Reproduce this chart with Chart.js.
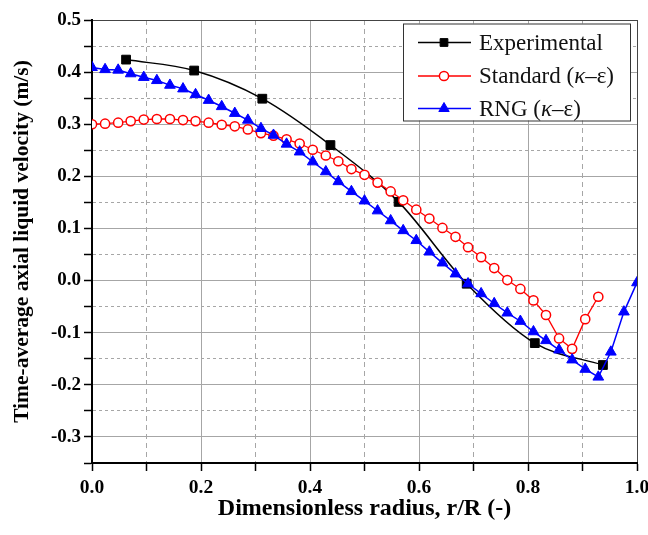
<!DOCTYPE html>
<html>
<head>
<meta charset="utf-8">
<title>Time-average axial liquid velocity</title>
<script src="https://cdn.jsdelivr.net/npm/chart.js@4/dist/chart.umd.min.js"></script>
<style>
  html, body { margin: 0; padding: 0; background: #fff; }
  #wrap { width: 648px; height: 535px; }
</style>
</head>
<body>
<div id="wrap"><canvas id="c" width="648" height="535"></canvas></div>
<script>
// Radial positions of the CFD sample points (r/R)
const radius = [0.000, 0.024, 0.048, 0.071, 0.095, 0.119, 0.143, 0.167, 0.190, 0.214,
                0.238, 0.262, 0.286, 0.310, 0.333, 0.357, 0.381, 0.405, 0.429, 0.452,
                0.476, 0.500, 0.524, 0.548, 0.571, 0.595, 0.619, 0.643, 0.667, 0.690,
                0.714, 0.738, 0.762, 0.786, 0.810, 0.833, 0.857, 0.881, 0.905, 0.929,
                0.952, 0.976, 1.000];

// Standard k-epsilon model (m/s)
const standardVel = [0.300, 0.301, 0.303, 0.306, 0.309, 0.310, 0.310, 0.308, 0.306, 0.303,
                     0.299, 0.296, 0.290, 0.283, 0.278, 0.271, 0.263, 0.251, 0.240, 0.229,
                     0.214, 0.203, 0.188, 0.171, 0.154, 0.136, 0.119, 0.101, 0.084, 0.064,
                     0.045, 0.024, 0.001, -0.016, -0.038, -0.066, -0.111, -0.131, -0.074, -0.031];

// RNG k-epsilon model (m/s)
const rngVel = [0.409, 0.405, 0.404, 0.397, 0.390, 0.384, 0.375, 0.368, 0.357, 0.346,
                0.334, 0.321, 0.308, 0.292, 0.279, 0.262, 0.247, 0.228, 0.209, 0.190,
                0.171, 0.153, 0.134, 0.115, 0.096, 0.077, 0.055, 0.034, 0.013, -0.006,
                -0.025, -0.044, -0.062, -0.078, -0.098, -0.115, -0.133, -0.152, -0.170, -0.185,
                -0.137, -0.060, -0.004];

// Measured profile
const expRadius = [0.0625, 0.1875, 0.3125, 0.4375, 0.5625, 0.6875, 0.8125, 0.9375];
const expVel = [0.424, 0.403, 0.349, 0.260, 0.151, -0.006, -0.120, -0.162];

const seriesLabels = ['Experimental', 'Standard (κ–ε)', 'RNG (κ–ε)'];

const pairs = (xs, ys) => ys.map((v, i) => ({ x: xs[i], y: v }));

const SERIF = '"Liberation Serif", "Times New Roman", serif';
const GRID = '#a6a6a6';
const FRAME = '#444';

// Boxed legend in the upper right of the plot, with an italic kappa
const boxedLegend = {
  id: 'boxedLegend',
  afterDatasetsDraw(chart) {
    const { ctx, chartArea: a } = chart;
    const w = 227, h = 97;
    const x0 = a.right - 234, y0 = a.top + 3.5;
    ctx.save();
    ctx.fillStyle = '#fff';
    ctx.fillRect(x0, y0, w, h);
    ctx.strokeStyle = '#333';
    ctx.lineWidth = 1;
    ctx.strokeRect(x0 + 0.5, y0 + 0.5, w, h);

    const rows = [y0 + 19, y0 + 52.5, y0 + 85];
    [0, 1, 2].forEach((di, r) => {
      const ds = chart.data.datasets[di];
      const y = rows[r];
      ctx.strokeStyle = ds.borderColor;
      ctx.lineWidth = ds.borderWidth;
      ctx.setLineDash([]);
      ctx.beginPath();
      ctx.moveTo(x0 + 15, y);
      ctx.lineTo(x0 + 68, y);
      ctx.stroke();
      const style = {
        pointStyle: ds.pointStyle,
        radius: ds.legendRadius,
        rotation: 0,
        borderWidth: ds.pointBorderWidth
      };
      ctx.fillStyle = ds.pointBackgroundColor;
      ctx.strokeStyle = ds.pointBorderColor;
      ctx.lineWidth = ds.pointBorderWidth;
      Chart.helpers.drawPoint(ctx, style, x0 + 41, y);

      ctx.fillStyle = '#111';
      ctx.textBaseline = 'middle';
      ctx.textAlign = 'left';
      const text = ds.label;
      let tx = x0 + 76;
      const k = text.indexOf('κ');
      const normal = '23px ' + SERIF;
      const italic = 'italic 23px ' + SERIF;
      if (k < 0) {
        ctx.font = normal;
        ctx.fillText(text, tx, y + 1);
      } else {
        const parts = [[text.slice(0, k), normal], ['κ', italic], [text.slice(k + 1), normal]];
        parts.forEach(([s, f]) => {
          ctx.font = f;
          ctx.fillText(s, tx, y + 1);
          tx += ctx.measureText(s).width;
        });
      }
    });
    ctx.restore();
  }
};

const tenths = v => Math.round(v * 10);
const hundredths = v => Math.round(v * 100);

new Chart(document.getElementById('c'), {
  type: 'line',
  data: {
    datasets: [
      {
        label: seriesLabels[0],
        data: pairs(expRadius, expVel),
        borderColor: '#000',
        backgroundColor: '#000',
        borderWidth: 1.5,
        pointStyle: 'rect',
        pointRadius: 6.2,
        legendRadius: 5.5,
        pointBackgroundColor: '#000',
        pointBorderColor: '#000',
        pointBorderWidth: 1,
        cubicInterpolationMode: 'monotone',
        order: 3
      },
      {
        label: seriesLabels[1],
        data: pairs(radius, standardVel),
        borderColor: '#ff0000',
        backgroundColor: '#fff',
        borderWidth: 1.3,
        pointStyle: 'circle',
        pointRadius: 4.6,
        legendRadius: 4.6,
        pointBackgroundColor: '#fff',
        pointBorderColor: '#ff0000',
        pointBorderWidth: 1.5,
        tension: 0,
        order: 2
      },
      {
        label: seriesLabels[2],
        data: pairs(radius, rngVel),
        borderColor: '#0000ff',
        backgroundColor: '#0000ff',
        borderWidth: 1.5,
        pointStyle: 'triangle',
        pointRadius: 6.2,
        legendRadius: 6,
        pointBackgroundColor: '#0000ff',
        pointBorderColor: '#0000ff',
        pointBorderWidth: 1,
        tension: 0,
        order: 1
      }
    ]
  },
  options: {
    responsive: false,
    animation: false,
    layout: { padding: { left: 10, right: 0, top: 20, bottom: 12 } },
    plugins: {
      legend: { display: false },
      tooltip: { enabled: false }
    },
    scales: {
      x: {
        type: 'linear',
        min: 0,
        max: 1,
        afterFit: s => { s.height = 60; s.paddingRight = 11; },
        ticks: {
          stepSize: 0.1,
          autoSkip: false,
          maxRotation: 0,
          padding: 5,
          color: '#000',
          font: { family: SERIF, size: 19.5, weight: 'bold' },
          callback: v => (tenths(v) % 2 === 0 ? (tenths(v) / 10).toFixed(1) : '')
        },
        grid: {
          color: c => (c.tick && tenths(c.tick.value) === 10 ? FRAME : GRID),
          lineWidth: 1,
          tickLength: 8,
          tickColor: '#000',
          tickWidth: 1.5
        },
        border: {
          color: '#000',
          width: 2,
          dash: c => (c.tick && tenths(c.tick.value) % 2 !== 0 ? [5, 4] : [])
        },
        title: {
          display: true,
          text: 'Dimensionless radius, r/R (-)',
          color: '#000',
          font: { family: SERIF, size: 24, weight: 'bold' },
          padding: { top: 2, bottom: 0 }
        }
      },
      y: {
        type: 'linear',
        min: -0.35,
        max: 0.5,
        afterFit: s => { s.width = 82; },
        ticks: {
          stepSize: 0.05,
          autoSkip: false,
          padding: 3,
          color: '#000',
          font: { family: SERIF, size: 19, weight: 'bold' },
          callback: v => (hundredths(v) % 10 === 0 ? (hundredths(v) / 100).toFixed(1) : '')
        },
        grid: {
          color: c => (c.tick && hundredths(c.tick.value) === 50 ? FRAME : GRID),
          lineWidth: 1,
          tickLength: 8,
          tickColor: '#000',
          tickWidth: 1.5
        },
        border: {
          color: '#000',
          width: 2,
          dash: c => (c.tick && hundredths(c.tick.value) % 10 !== 0 ? [3, 3] : [])
        },
        title: {
          display: true,
          text: 'Time-average axial liquid velocity (m/s)',
          color: '#000',
          font: { family: SERIF, size: 21.5, weight: 'bold' },
          padding: { top: 0, bottom: 8 }
        }
      }
    }
  },
  plugins: [boxedLegend]
});
</script>
</body>
</html>
